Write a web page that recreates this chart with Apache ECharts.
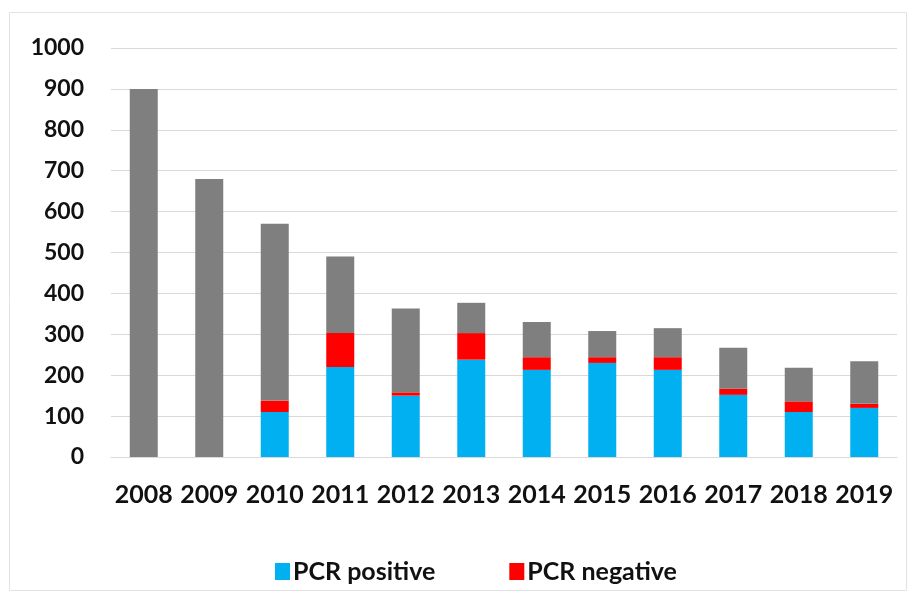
<!DOCTYPE html>
<html><head><meta charset="utf-8">
<script src="https://cdn.jsdelivr.net/npm/echarts@6/dist/echarts.min.js"></script>
<style>html,body{margin:0;padding:0;background:#fff}#c{width:916px;height:598px}</style>
</head><body><div id="c"></div>
<script>
const years = ['2008','2009','2010','2011','2012','2013','2014','2015','2016','2017','2018','2019'];
const pcrPositive = [0, 0, 110, 220, 150, 238, 213, 230, 213, 152, 110, 120];
const pcrNegative = [0, 0, 28, 83, 8, 65, 31, 14, 31, 15, 26, 10];
const remainder = [900, 680, 432, 187, 205, 74, 86, 64, 71, 100, 82, 104];
const yTicks = [0, 100, 200, 300, 400, 500, 600, 700, 800, 900, 1000];

const chart = echarts.init(document.getElementById('c'));
const font = 'Lato, "Open Sans", sans-serif';
chart.setOption({
  animation: false,
  backgroundColor: '#fff',
  graphic: [{type:'rect', shape:{x:9.5,y:12.5,width:897,height:578}, style:{fill:'none', stroke:'#e2e2e2', lineWidth:1}, silent:true}],
  grid: {left: 111, right: 19, top: 48, bottom: 141},
  legend: {
    data: ['PCR positive', 'PCR negative'],
    top: 554, left: 270, itemGap: 74, itemWidth: 15, itemHeight: 17,
    icon: 'rect',
    textStyle: {fontFamily: font, fontWeight: 'bold', fontSize: 25, color: '#111', padding:[0,0,0,-2]}
  },
  xAxis: {
    type: 'category', data: years,
    axisLine: {show: true, lineStyle: {color: '#d9d9d9'}}, axisTick: {show: false},
    axisLabel: {interval: 0, hideOverlap: false, fontFamily: font, fontWeight: 'bold', fontSize: 25, color: '#111', margin: 25}
  },
  yAxis: {
    type: 'value', min: 0, max: 1000, interval: 100,
    axisLine: {show: false}, axisTick: {show: false},
    splitLine: {lineStyle: {color: '#d9d9d9', width: 1}},
    axisLabel: {fontFamily: font, fontWeight: 'bold', fontSize: 23, color: '#111', margin: 27,
      formatter: v => yTicks.includes(v) ? String(v) : ''}
  },
  series: [
    {name: 'PCR positive', type: 'bar', stack: 's', data: pcrPositive, barWidth: 28, itemStyle: {color: '#00b0f0'}},
    {name: 'PCR negative', type: 'bar', stack: 's', data: pcrNegative, barWidth: 28, itemStyle: {color: '#ff0000'}},
    {name: 'Other', type: 'bar', stack: 's', data: remainder, barWidth: 28, itemStyle: {color: '#7f7f7f'}}
  ]
});
</script></body></html>
